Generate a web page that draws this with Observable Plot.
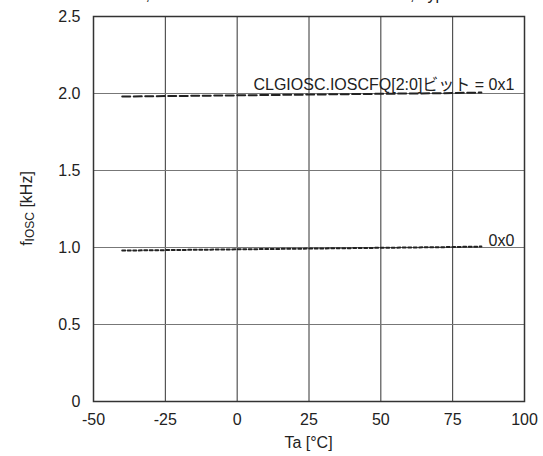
<!DOCTYPE html>
<html>
<head>
<meta charset="utf-8">
<script src="https://cdn.jsdelivr.net/npm/d3@7"></script>
<script src="https://cdn.jsdelivr.net/npm/@observablehq/plot@0.6"></script>
<style>
  html, body { margin: 0; padding: 0; background: #fff; }
  #chart { width: 543px; height: 456px; overflow: hidden; }
  svg { font-family: "Liberation Sans", Arial, "Noto Sans CJK JP", sans-serif; }
</style>
</head>
<body>
<div id="chart"></div>
<script>
// ---- data ----
const temps = [-40, -25, 0, 25, 50, 75, 85];
const freq0x1 = [1.980, 1.983, 1.988, 1.993, 1.998, 2.003, 2.006];
const freq0x0 = [0.980, 0.983, 0.988, 0.993, 0.998, 1.003, 1.006];
const seriesNames = ["CLGIOSC.IOSCFQ[2:0]ビット = 0x1", "0x0"];
const xTicks = [-50, -25, 0, 25, 50, 75, 100];
const yTicks = [0, 0.5, 1.0, 1.5, 2.0, 2.5];
const xLabel = "Ta [°C]";
const yLabelMain = "f";
const yLabelSub = "IOSC";
const yLabelUnit = " [kHz]";
const headLeft = "VDD = 3.6 V,";
const headRight = ", Typ.";

const rows1 = temps.map((t, i) => ({t, f: freq0x1[i], s: seriesNames[0]}));
const rows0 = temps.map((t, i) => ({t, f: freq0x0[i], s: seriesNames[1]}));

const W = 543, H = 456;
const mL = 93, mR = 19, mT = 16, mB = 55;

const plot = Plot.plot({
  width: W,
  height: H,
  marginLeft: mL,
  marginRight: mR,
  marginTop: mT,
  marginBottom: mB,
  style: {fontSize: "16px", fontFamily: '"Liberation Sans", Arial, "Noto Sans CJK JP", sans-serif', color: "#222", background: "#fff"},
  x: {domain: [-50, 100], ticks: xTicks},
  y: {domain: [0, 2.5], ticks: yTicks},
  marks: [
    Plot.gridX(xTicks.filter(v => v > -50 && v < 100), {stroke: "#333", strokeOpacity: 1, strokeWidth: 1}),
    Plot.gridY(yTicks.filter(v => v > 0 && v < 2.5), {stroke: "#777", strokeOpacity: 1, strokeWidth: 1}),
    Plot.frame({stroke: "#333", strokeWidth: 1.5}),
    Plot.lineY(rows1, {x: "t", y: "f", stroke: "#222", strokeWidth: 2, strokeDasharray: "8,3.5"}),
    Plot.lineY(rows0, {x: "t", y: "f", stroke: "#222", strokeWidth: 2, strokeDasharray: "3,2.5"}),
    Plot.text(rows1, Plot.selectLast({x: "t", y: "f", text: "s", textAnchor: "end", lineAnchor: "bottom", dx: 33, dy: -3, fill: "#222", fontSize: 16})),
    Plot.text(rows0, Plot.selectLast({x: "t", y: "f", text: "s", textAnchor: "end", lineAnchor: "bottom", dx: 33, dy: -1, fill: "#222", fontSize: 16})),
    Plot.axisX(xTicks, {tickSize: 0, tickPadding: 12, label: null, fontSize: 16, tickFormat: d => String(d)}),
    Plot.axisY(yTicks, {tickSize: 0, tickPadding: 13, label: null, fontSize: 16, tickFormat: d => d === 0 ? "0" : d.toFixed(1)})
  ]
});

document.getElementById("chart").appendChild(plot);

const svg = d3.select(plot);
// axis titles
svg.append("text")
  .attr("x", (mL + W - mR) / 2)
  .attr("y", 448)
  .attr("text-anchor", "middle")
  .attr("font-size", 16)
  .attr("fill", "#222")
  .text(xLabel);

const yl = svg.append("text")
  .attr("transform", `translate(32,${(mT + H - mB) / 2}) rotate(-90)`)
  .attr("text-anchor", "middle")
  .attr("font-size", 16)
  .attr("fill", "#222");
yl.append("tspan").text(yLabelMain);
yl.append("tspan").attr("font-size", 12).attr("dy", 2).text(yLabelSub);
yl.append("tspan").attr("dy", -2).text(yLabelUnit);

// heading, clipped at the top edge as in the reference (only descenders visible)
svg.append("text").attr("x", 150).attr("y", 0).attr("text-anchor", "end")
  .attr("font-size", 16).attr("fill", "#222").text(headLeft);
svg.append("text").attr("x", 410).attr("y", 0).attr("text-anchor", "start")
  .attr("font-size", 16).attr("fill", "#222").text(headRight);
</script>
</body>
</html>
